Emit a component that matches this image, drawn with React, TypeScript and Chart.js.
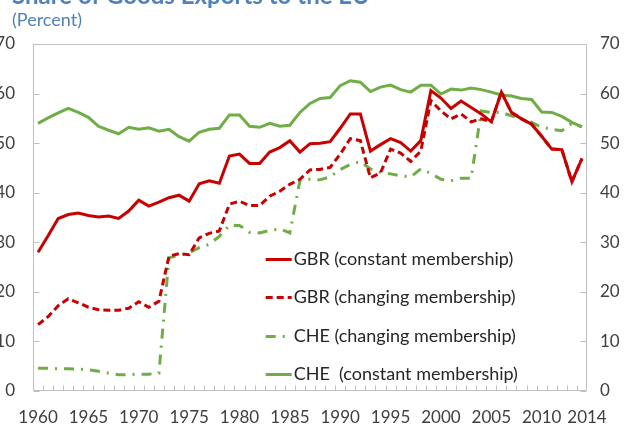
import React, { useEffect, useRef } from "react";
import { Chart, registerables } from "chart.js";

Chart.register(...registerables);

const years = [
  1960, 1961, 1962, 1963, 1964, 1965, 1966, 1967, 1968, 1969,
  1970, 1971, 1972, 1973, 1974, 1975, 1976, 1977, 1978, 1979,
  1980, 1981, 1982, 1983, 1984, 1985, 1986, 1987, 1988, 1989,
  1990, 1991, 1992, 1993, 1994, 1995, 1996, 1997, 1998, 1999,
  2000, 2001, 2002, 2003, 2004, 2005, 2006, 2007, 2008, 2009,
  2010, 2011, 2012, 2013, 2014,
];

const gbrConstant = [
  28.0, 31.3, 34.8, 35.6, 35.9, 35.4, 35.1, 35.3, 34.8, 36.3,
  38.5, 37.3, 38.1, 39.0, 39.5, 38.3, 41.8, 42.4, 41.9, 47.4,
  47.8, 45.9, 45.9, 48.2, 49.1, 50.5, 48.2, 49.9, 50.0, 50.3,
  53.0, 55.9, 55.9, 48.4, 49.7, 50.9, 50.1, 48.4, 50.5, 60.6,
  59.1, 57.0, 58.5, 57.2, 55.9, 54.3, 60.3, 56.2, 54.9, 53.8,
  51.4, 48.8, 48.7, 42.2, 46.9,
];

const gbrChanging = [
  13.4, 15.0, 17.2, 18.6, 17.8, 16.9, 16.4, 16.3, 16.3, 16.7,
  18.0, 16.9, 18.1, 27.2, 27.7, 27.5, 30.9, 31.8, 32.3, 37.7,
  38.3, 37.4, 37.4, 39.3, 40.3, 41.7, 42.7, 44.6, 44.7, 45.1,
  47.8, 50.9, 50.5, 43.0, 44.0, 48.8, 48.0, 46.3, 48.4, 58.6,
  56.5, 54.9, 55.9, 54.3, 54.9, 54.3, 60.3, 56.2, 54.9, 53.8,
  51.4, 48.8, 48.7, 42.2, 46.9,
];

const cheChanging = [
  4.6, 4.6, 4.5, 4.5, 4.4, 4.3, 4.0, 3.6, 3.3, 3.3,
  3.4, 3.4, 3.6, 26.9, 27.3, 27.9, 28.9, 29.6, 31.2, 33.4,
  33.4, 32.0, 31.9, 32.4, 32.7, 31.9, 42.4, 42.7, 42.6, 43.2,
  44.7, 45.7, 46.3, 44.8, 44.1, 43.8, 43.4, 43.2, 44.8, 43.9,
  42.7, 42.4, 42.9, 42.9, 56.5, 56.2, 56.2, 55.5, 54.9, 54.2,
  53.2, 52.8, 52.5, 54.0, 53.3,
];

const cheConstant = [
  54.0, 55.1, 56.1, 57.0, 56.2, 55.2, 53.4, 52.6, 51.9, 53.2,
  52.8, 53.1, 52.4, 52.8, 51.3, 50.4, 52.2, 52.8, 53.0, 55.7,
  55.7, 53.4, 53.2, 54.0, 53.4, 53.6, 56.2, 58.0, 59.0, 59.2,
  61.6, 62.6, 62.3, 60.4, 61.3, 61.7, 60.8, 60.3, 61.7, 61.7,
  59.9, 60.9, 60.7, 61.1, 60.8, 60.3, 59.7, 59.5, 59.0, 58.8,
  56.3, 56.2, 55.4, 54.2, 53.3,
];

const seriesLabels = [
  "GBR (constant membership)",
  "GBR (changing membership)",
  "CHE (changing membership)",
  "CHE  (constant membership)",
];

const xTickValues = [1960, 1965, 1970, 1975, 1980, 1985, 1990, 1995, 2000, 2005, 2010, 2014.5];
const xTickLabels = ["1960", "1965", "1970", "1975", "1980", "1985", "1990", "1995", "2000", "2005", "2010", "2014"];

const titleText = "Share of Goods Exports to the EU";
const subtitleText = "(Percent)";

const RED = "#c80000";
const GREEN = "#70ad47";
const BLUE = "#4f81bd";
const FONT = "Lato, 'Open Sans', sans-serif";

const toPoints = (vals: number[]) => vals.map((v, i) => ({ x: years[i], y: v }));

const framePlugin = {
  id: "frame",
  beforeDatasetsDraw(chart: any) {
    const { ctx, chartArea } = chart;
    const l = Math.round(chartArea.left) + 0.5;
    const r = Math.round(chartArea.right) - 0.5;
    const t = Math.round(chartArea.top) + 0.5;
    const b = Math.round(chartArea.bottom) - 0.5;
    ctx.save();
    ctx.strokeStyle = "#bfbfbf";
    ctx.lineWidth = 1;
    ctx.beginPath();
    ctx.rect(l, t, r - l, b - t);
    const ys = chart.scales.y;
    ys.ticks.forEach((tk: any) => {
      const py = Math.round(ys.getPixelForValue(tk.value)) + 0.5;
      ctx.moveTo(l, py);
      ctx.lineTo(l + 6, py);
      ctx.moveTo(r, py);
      ctx.lineTo(r - 6, py);
    });
    const xs = chart.scales.x;
    for (let i = 0; i < years.length - 1; i++) {
      const px = Math.round(xs.getPixelForValue(years[i] + 0.5)) + 0.5;
      ctx.moveTo(px, b);
      ctx.lineTo(px, b - 5);
    }
    ctx.stroke();
    ctx.restore();
  },
};

const textPlugin = {
  id: "texts",
  afterDraw(chart: any) {
    const { ctx, chartArea } = chart;
    ctx.save();
    ctx.fillStyle = BLUE;
    ctx.textAlign = "left";
    ctx.textBaseline = "alphabetic";
    ctx.font = `bold 24px ${FONT}`;
    ctx.fillText(titleText, 12, 4);
    ctx.font = `18px ${FONT}`;
    ctx.fillText(subtitleText, 12, 26);

    const w = chartArea.right - chartArea.left;
    const h = chartArea.bottom - chartArea.top;
    const x0 = chartArea.left + w * 0.42;
    const x1 = x0 + 26;
    const y0 = chartArea.top + h * 0.619;
    const step = h * 0.111;
    chart.data.datasets.forEach((ds: any, i: number) => {
      const y = Math.round(y0 + i * step) + 0.5;
      ctx.beginPath();
      ctx.strokeStyle = ds.borderColor;
      ctx.lineWidth = ds.borderWidth;
      ctx.setLineDash(ds.borderDash || []);
      ctx.moveTo(x0, y);
      ctx.lineTo(x1, y);
      ctx.stroke();
      ctx.setLineDash([]);
      ctx.fillStyle = "#262626";
      ctx.font = `18px ${FONT}`;
      ctx.textBaseline = "middle";
      ctx.fillText(ds.label, x1 + 2, y);
    });
    ctx.restore();
  },
};

export default function App() {
  const ref = useRef<HTMLCanvasElement | null>(null);
  useEffect(() => {
    if (!ref.current) return;
    const chart = new Chart(ref.current, {
      type: "line",
      data: {
        datasets: [
          {
            label: seriesLabels[0],
            data: toPoints(gbrConstant),
            borderColor: RED,
            borderWidth: 3,
            pointRadius: 0,
            tension: 0,
          },
          {
            label: seriesLabels[1],
            data: toPoints(gbrChanging),
            borderColor: RED,
            borderWidth: 3,
            borderDash: [7, 4],
            pointRadius: 0,
            tension: 0,
          },
          {
            label: seriesLabels[2],
            data: toPoints(cheChanging),
            borderColor: GREEN,
            borderWidth: 3,
            borderDash: [10, 7, 2, 7],
            pointRadius: 0,
            tension: 0,
          },
          {
            label: seriesLabels[3],
            data: toPoints(cheConstant),
            borderColor: GREEN,
            borderWidth: 3,
            pointRadius: 0,
            tension: 0,
          },
        ],
      },
      options: {
        animation: false,
        responsive: false,
        maintainAspectRatio: false,
        layout: { padding: { top: 44, left: 0, right: 0, bottom: 0 } },
        plugins: {
          legend: { display: false },
          tooltip: { enabled: false },
          title: { display: false },
        },
        scales: {
          x: {
            type: "linear",
            min: 1959.5,
            max: 2014.5,
            grid: { display: false, drawTicks: false },
            border: { display: false },
            afterBuildTicks: (scale: any) => {
              scale.ticks = xTickValues.map((v) => ({ value: v }));
            },
            afterFit: (scale: any) => {
              scale.height = 35;
            },
            ticks: {
              autoSkip: false,
              maxRotation: 0,
              padding: 16,
              color: "#404040",
              font: { family: FONT, size: 17 },
              callback: (v: any) => {
                const i = xTickValues.indexOf(Number(v));
                return i >= 0 ? xTickLabels[i] : "";
              },
            },
          },
          y: {
            position: "left",
            min: 0,
            max: 70,
            grid: { display: false, drawTicks: false },
            border: { display: false },
            afterFit: (scale: any) => {
              scale.width = 33;
            },
            ticks: {
              stepSize: 10,
              padding: 18,
              color: "#404040",
              font: { family: FONT, size: 17 },
            },
          },
          y2: {
            position: "right",
            min: 0,
            max: 70,
            grid: { display: false, drawTicks: false },
            border: { display: false },
            afterFit: (scale: any) => {
              scale.width = 37;
            },
            ticks: {
              stepSize: 10,
              padding: 13,
              color: "#404040",
              font: { family: FONT, size: 17 },
            },
          },
        },
      },
      plugins: [framePlugin, textPlugin],
    });
    return () => chart.destroy();
  }, []);
  return (
    <div style={{ position: "absolute", left: 0, top: 0, width: 624, height: 426, background: "#fff" }}>
      <canvas ref={ref} width={624} height={426} style={{ display: "block", width: 624, height: 426 }} />
    </div>
  );
}
